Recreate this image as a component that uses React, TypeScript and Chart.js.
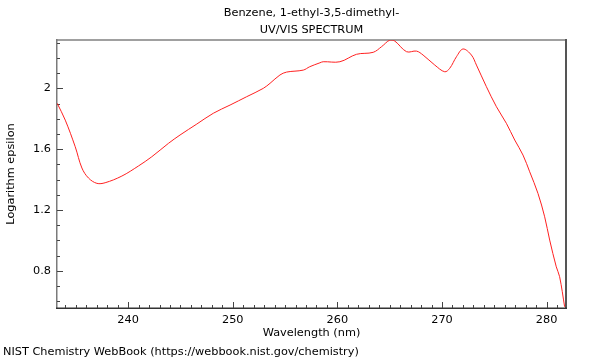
import React, { useEffect, useRef } from 'react';
import { Chart, registerables } from 'chart.js';

Chart.register(...registerables);

const wavelength = [
  233.22, 233.99, 234.94, 235.58, 236.21, 237.01, 237.8, 239.4, 240.98, 242.26,
  243.85, 244.96, 246.56, 248.14, 249.74, 251.33, 252.92, 253.56, 254.51, 255.15,
  256.74, 257.35, 258.33, 258.64, 260.24, 261.83, 263.42, 264.22, 265.02, 265.49,
  266.61, 267.56, 268.19, 269.31, 270.26, 270.74, 271.38, 272.01, 272.81, 273.29,
  274.24, 275.2, 276.15, 276.95, 277.74, 278.38, 279.17, 279.81, 280.29, 280.92,
  281.24, 281.72,
];
const logEpsilon = [
  1.901, 1.791, 1.616, 1.476, 1.41, 1.375, 1.379, 1.423, 1.489, 1.55,
  1.638, 1.693, 1.765, 1.836, 1.89, 1.945, 2.0, 2.033, 2.088, 2.107,
  2.12, 2.142, 2.168, 2.175, 2.175, 2.224, 2.237, 2.274, 2.318, 2.311,
  2.241, 2.245, 2.219, 2.153, 2.109, 2.132, 2.208, 2.259, 2.219, 2.153,
  2.011, 1.879, 1.77, 1.66, 1.561, 1.451, 1.309, 1.155, 1.002, 0.826,
  0.761, 0.563,
];

const xMin = 233.2;
const xMax = 281.85;
const yMin = 0.555;
const yMax = 2.318;

const xMajorTicks = [240, 250, 260, 270, 280];
const xMinorTicks = [
  234, 235, 236, 237, 238, 239, 241, 242, 243, 244, 245, 246, 247, 248, 249,
  251, 252, 253, 254, 255, 256, 257, 258, 259, 261, 262, 263, 264, 265, 266,
  267, 268, 269, 271, 272, 273, 274, 275, 276, 277, 278, 279, 281,
];
const yMajorTicks = [0.8, 1.2, 1.6, 2.0];
const yTickLabels = ['0.8', '1.2', '1.6', '2'];
const yMinorTicks = [0.6, 0.7, 0.9, 1.0, 1.1, 1.3, 1.4, 1.5, 1.7, 1.8, 1.9, 2.1, 2.2, 2.3];

const titleLines = ['Benzene, 1-ethyl-3,5-dimethyl-', 'UV/VIS SPECTRUM'];
const xAxisTitle = 'Wavelength (nm)';
const yAxisTitle = 'Logarithm epsilon';
const footerText = 'NIST Chemistry WebBook (https://webbook.nist.gov/chemistry)';

const FONT = "'DejaVu Sans', sans-serif";
const FONT_SIZE = 11.3;

const framePlugin = {
  id: 'nistFrame',
  beforeDatasetsDraw(chart: any) {
    const { ctx, chartArea } = chart;
    const { left, right, top, bottom } = chartArea;
    const xs = chart.scales.x;
    const ys = chart.scales.y;
    ctx.save();
    ctx.fillStyle = '#a0a0a0';
    ctx.fillRect(left - 1, top - 1, right - left + 2, 2);
    ctx.fillStyle = '#7a7a7a';
    ctx.fillRect(left - 1, top - 1, 1.5, bottom - top + 2);
    ctx.fillStyle = '#555555';
    ctx.fillRect(right - 1, top - 1, 2, bottom - top + 2);
    ctx.fillStyle = '#333333';
    ctx.fillRect(left - 1, bottom - 0.5, right - left + 2, 1.5);
    ctx.strokeStyle = '#444444';
    ctx.lineWidth = 1;
    ctx.beginPath();
    const xTick = (v: number, len: number) => {
      const px = Math.round(xs.getPixelForValue(v)) + 0.5;
      ctx.moveTo(px, bottom);
      ctx.lineTo(px, bottom - len);
    };
    const yTick = (v: number, len: number) => {
      const py = Math.round(ys.getPixelForValue(v)) + 0.5;
      ctx.moveTo(left, py);
      ctx.lineTo(left + len, py);
    };
    xMajorTicks.forEach((v) => xTick(v, 6));
    xMinorTicks.forEach((v) => xTick(v, 3));
    yMajorTicks.forEach((v) => yTick(v, 6));
    yMinorTicks.forEach((v) => yTick(v, 3));
    ctx.stroke();
    ctx.restore();
  },
  afterDraw(chart: any) {
    const { ctx, chartArea } = chart;
    const cx = (chartArea.left + chartArea.right) / 2;
    ctx.save();
    ctx.fillStyle = '#000000';
    ctx.font = `${FONT_SIZE}px ${FONT}`;
    ctx.textAlign = 'center';
    ctx.textBaseline = 'middle';
    ctx.fillText(titleLines[0], cx, 13);
    ctx.fillText(titleLines[1], cx, 30);
    ctx.textAlign = 'left';
    ctx.fillText(footerText, 3, 352);
    ctx.restore();
  },
};

export default function App() {
  const canvasRef = useRef<HTMLCanvasElement | null>(null);

  useEffect(() => {
    document.body.style.margin = '0';
    const canvas = canvasRef.current;
    if (!canvas) return;
    const points = wavelength.map((x, i) => ({ x, y: logEpsilon[i] }));
    const chart = new Chart(canvas, {
      type: 'line',
      data: {
        datasets: [
          {
            data: points,
            borderColor: '#ff2020',
            borderWidth: 1,
            pointRadius: 0,
            fill: false,
            tension: 0.35,
          },
        ],
      },
      options: {
        responsive: false,
        animation: false,
        devicePixelRatio: 1,
        layout: { padding: { left: 0, top: 40, right: 34, bottom: 18 } },
        plugins: {
          legend: { display: false },
          tooltip: { enabled: false },
          title: { display: false },
        },
        scales: {
          x: {
            type: 'linear',
            min: xMin,
            max: xMax,
            afterBuildTicks: (s: any) => {
              s.ticks = xMajorTicks.map((v) => ({ value: v }));
            },
            afterFit: (s: any) => {
              s.height = 34;
            },
            grid: { display: false, drawTicks: false },
            border: { display: false },
            ticks: {
              color: '#000000',
              font: { family: FONT, size: FONT_SIZE },
              padding: 5,
              maxRotation: 0,
              autoSkip: false,
            },
            title: {
              display: true,
              text: xAxisTitle,
              color: '#000000',
              font: { family: FONT, size: FONT_SIZE },
              padding: { top: 0, bottom: 2 },
            },
          },
          y: {
            type: 'linear',
            min: yMin,
            max: yMax,
            afterBuildTicks: (s: any) => {
              s.ticks = yMajorTicks.map((v) => ({ value: v }));
            },
            afterFit: (s: any) => {
              s.width = 57;
            },
            grid: { display: false, drawTicks: false },
            border: { display: false },
            ticks: {
              color: '#000000',
              font: { family: FONT, size: FONT_SIZE },
              padding: 6,
              autoSkip: false,
              callback: (_v: any, i: number) => yTickLabels[i],
            },
            title: {
              display: true,
              text: yAxisTitle,
              color: '#000000',
              font: { family: FONT, size: FONT_SIZE },
              padding: { top: 4, bottom: 0 },
            },
          },
        },
      },
      plugins: [framePlugin],
    } as any);
    return () => chart.destroy();
  }, []);

  return (
    <div style={{ position: 'absolute', left: 0, top: 0, width: 600, height: 360, background: '#ffffff' }}>
      <canvas ref={canvasRef} width={600} height={360} style={{ width: 600, height: 360, display: 'block' }} />
    </div>
  );
}
